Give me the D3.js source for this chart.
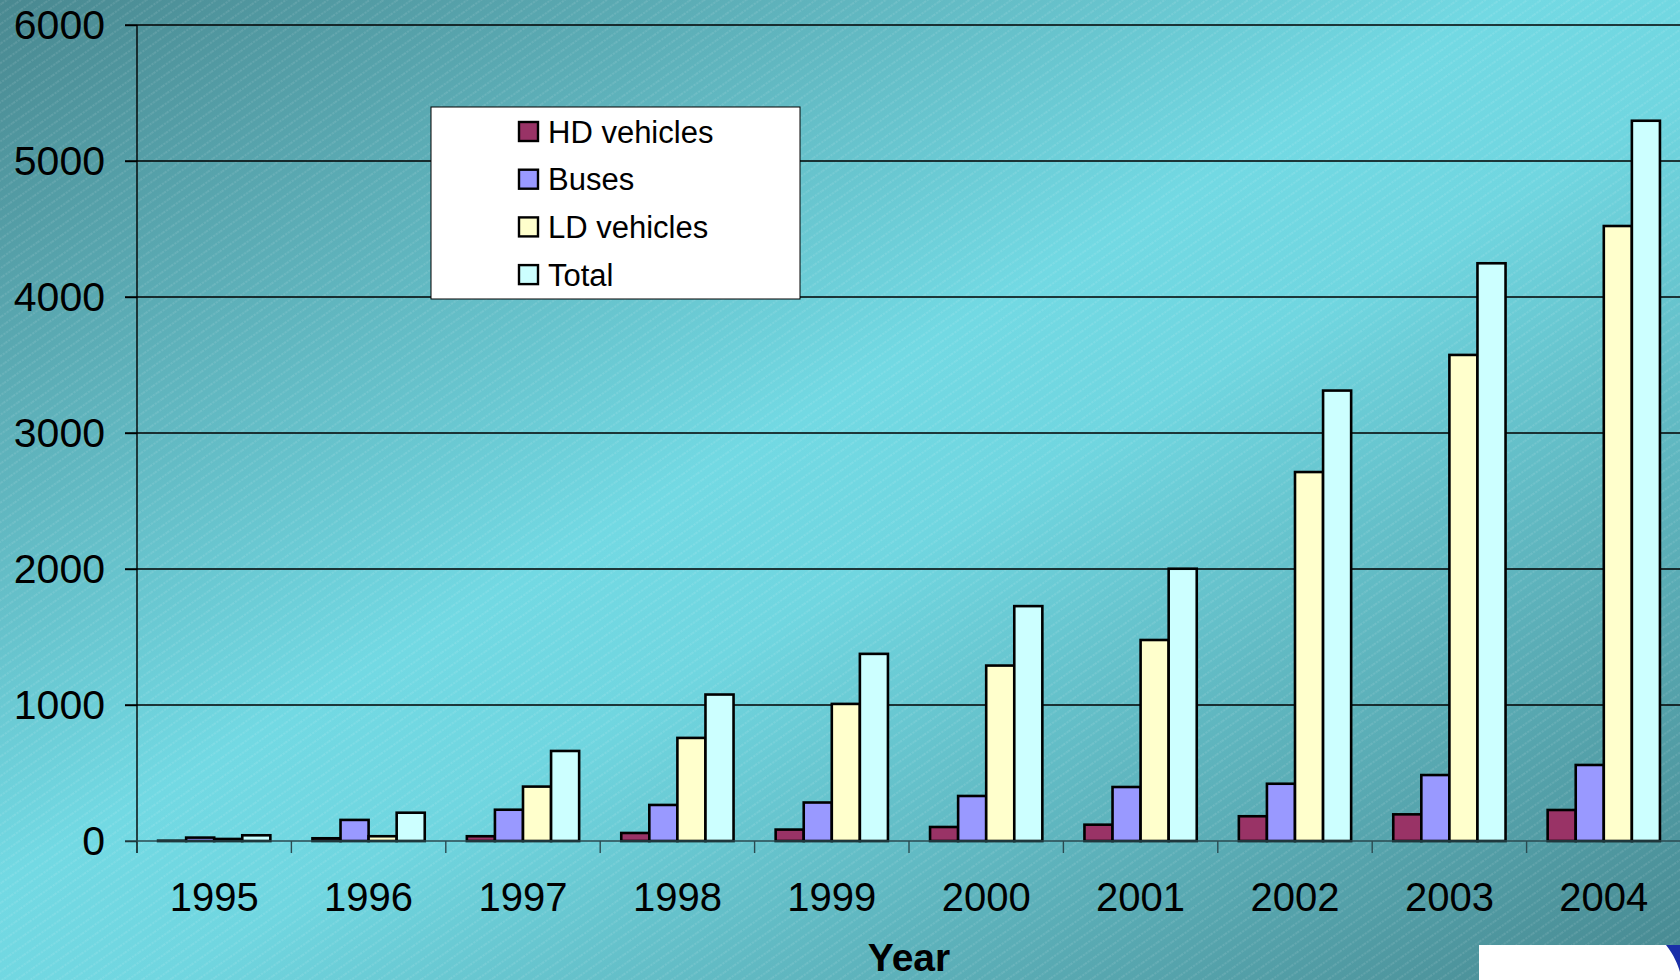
<!DOCTYPE html>
<html>
<head>
<meta charset="utf-8">
<script src="https://cdn.jsdelivr.net/npm/d3@7"></script>
<style>
html,body{margin:0;padding:0;background:#fff;}
svg{display:block;font-family:"Liberation Sans",Arial,sans-serif;}
</style>
</head>
<body>
<svg id="chart" width="1680" height="980"></svg>
<script>
const years = ["1995","1996","1997","1998","1999","2000","2001","2002","2003","2004"];
const seriesNames = ["HD vehicles","Buses","LD vehicles","Total"];
const hdVehicles = [2, 20, 35, 59, 84, 103, 120, 182, 196, 228];
const buses      = [25, 155, 230, 265, 283, 331, 397, 421, 485, 559];
const ldVehicles = [15, 35, 400, 758, 1008, 1290, 1478, 2713, 3574, 4522];
const total      = [42, 208, 662, 1077, 1376, 1727, 2002, 3312, 4248, 5296];
const yTicks = [0, 1000, 2000, 3000, 4000, 5000, 6000];
const colors = ["#993366","#9999FF","#FFFFCC","#CCFFFF"];
const seriesValues = [hdVehicles, buses, ldVehicles, total];

(function(){
const W = 1680, H = 980;
const svg = d3.select("#chart");
const defs = svg.append("defs");

const grad = defs.append("linearGradient").attr("id","bg")
  .attr("x1","0").attr("y1","0").attr("x2","1").attr("y2","1");
grad.append("stop").attr("offset","0").attr("stop-color","#498890");
grad.append("stop").attr("offset","0.45").attr("stop-color","#72d9e3");
grad.append("stop").attr("offset","0.55").attr("stop-color","#70d6e0");
grad.append("stop").attr("offset","1").attr("stop-color","#478890");

const pat = defs.append("pattern").attr("id","hatch")
  .attr("patternUnits","userSpaceOnUse").attr("width",12).attr("height",8)
  .attr("patternTransform","rotate(-35)");
pat.append("line").attr("x1",0).attr("x2",12).attr("y1",4).attr("y2",4)
  .attr("stroke","#ffffff").attr("stroke-width",0.6).attr("stroke-opacity",0.35)
  .attr("stroke-dasharray","2 1.2");

svg.append("rect").attr("width",W).attr("height",H).attr("fill","url(#bg)");
svg.append("rect").attr("width",W).attr("height",H).attr("fill","url(#hatch)");

const pL = 137, pR = 1681, pT = 25, pB = 841;
const x0 = d3.scaleBand().domain(years).range([pL, pR]).padding(0);
const x1 = d3.scaleBand().domain(seriesNames).range([0, x0.bandwidth()]).paddingInner(0).paddingOuter(0.75);
const y = d3.scaleLinear().domain([0, 6000]).range([pB, pT]);

// gridlines
svg.append("g").selectAll("line").data(yTicks.filter(d=>d>0)).join("line")
  .attr("x1", pL-12).attr("x2", W).attr("y1", d=>y(d)).attr("y2", d=>y(d))
  .attr("stroke","#000").attr("stroke-width",1.4);

// bars
const groups = svg.append("g").selectAll("g").data(years).join("g")
  .attr("transform", d=>`translate(${x0(d)},0)`);
groups.selectAll("rect").data((d,i)=>seriesNames.map((s,j)=>({s, v: seriesValues[j][i], c: colors[j]})))
  .join("rect")
  .attr("x", d=>x1(d.s)).attr("width", x1.bandwidth())
  .attr("y", d=>y(d.v)).attr("height", d=>pB - y(d.v))
  .attr("fill", d=>d.c).attr("stroke","#000").attr("stroke-width",2.6);

// axes
const yAxis = d3.axisLeft(y).tickValues(yTicks).tickSize(12).tickPadding(20).tickFormat(d3.format("d"));
const gy = svg.append("g").attr("transform",`translate(${pL},0)`).call(yAxis);
gy.select(".domain").attr("d", `M0,${pT}V${pB+12}`).attr("stroke","#000").attr("stroke-width",1.4);
gy.selectAll(".tick line").attr("stroke","#000").attr("stroke-width",1.4);
gy.selectAll(".tick text").attr("font-size",41).attr("fill","#000").attr("font-family","Liberation Sans, Arial, sans-serif");

const xAxis = d3.axisBottom(x0).tickSize(0).tickPadding(42);
const gx = svg.append("g").attr("transform",`translate(0,${pB})`).call(xAxis);
gx.select(".domain").attr("d", `M${pL-12},0H${W}`).attr("stroke","#2a4a50").attr("stroke-width",1.4);
gx.selectAll(".tick text").attr("font-size",40).attr("fill","#000").attr("font-family","Liberation Sans, Arial, sans-serif");
// category separator ticks
svg.append("g").selectAll("line").data(years.slice(1)).join("line")
  .attr("x1", d=>x0(d)).attr("x2", d=>x0(d)).attr("y1", pB).attr("y2", pB+12)
  .attr("stroke","#2a4a50").attr("stroke-width",1.4);

// axis title
svg.append("text").attr("x",(pL+pR)/2).attr("y",971).attr("text-anchor","middle")
  .attr("font-size",39).attr("font-weight","bold").attr("fill","#000").text("Year");

// legend
const lg = svg.append("g");
lg.append("rect").attr("x",431).attr("y",107).attr("width",369).attr("height",192)
  .attr("fill","#fff").attr("stroke","#000").attr("stroke-width",1);
const rows = lg.selectAll("g").data(seriesNames).join("g")
  .attr("transform",(d,i)=>`translate(519,${131.5 + i*47.7})`);
rows.append("rect").attr("x",0).attr("y",-9.5).attr("width",19).attr("height",19)
  .attr("fill",(d,i)=>colors[i]).attr("stroke","#000").attr("stroke-width",2.4);
rows.append("text").attr("x",29).attr("y",0).attr("dy","0.36em")
  .attr("font-size",31).attr("fill","#000").text(d=>d);

// logo corner
svg.append("rect").attr("x",1479).attr("y",945).attr("width",W-1479).attr("height",H-945).attr("fill","#fff");
svg.append("path").attr("d","M1666,945 C1674,955 1678,965 1680,972 L1680,945 Z").attr("fill","#1a2fa8");
})();
</script>
</body>
</html>
